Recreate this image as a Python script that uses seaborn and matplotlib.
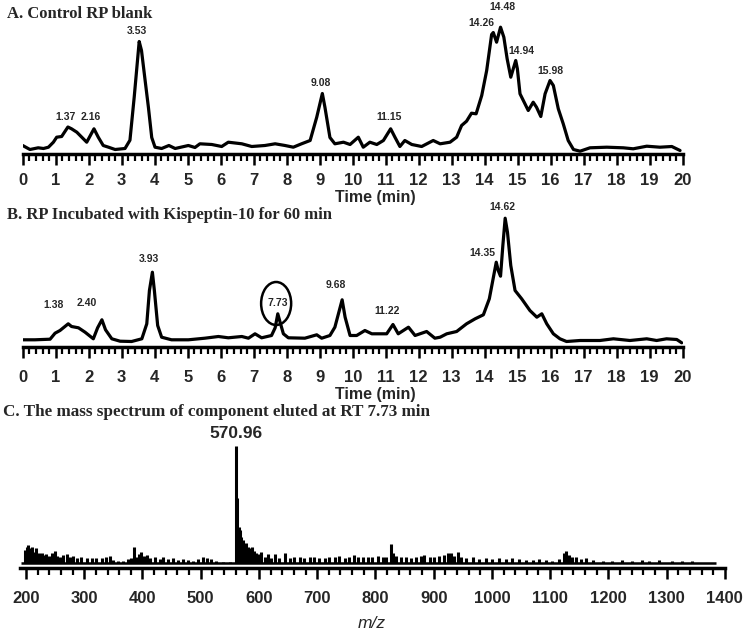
import matplotlib
matplotlib.use("Agg")
import matplotlib.pyplot as plt
from matplotlib.patches import Ellipse
from matplotlib.ticker import MultipleLocator
import seaborn as sns

# -----------------------------
# Data
# -----------------------------
# A. Control RP blank (time in min, detector response in arbitrary units)
time_a = [0.0, 0.22, 0.47, 0.63, 0.78, 0.93, 1.03, 1.18, 1.37, 1.48, 1.64, 1.79, 1.94,
          2.16, 2.29, 2.44, 2.60, 2.80, 3.10, 3.25, 3.38, 3.53, 3.60, 3.71, 3.81, 3.91,
          4.01, 4.21, 4.43, 4.62, 5.02, 5.22, 5.37, 5.73, 6.03, 6.23, 6.64, 6.94, 7.34,
          7.65, 7.95, 8.20, 8.45, 8.71, 8.91, 9.08, 9.16, 9.31, 9.46, 9.72, 9.92, 10.17,
          10.32, 10.52, 10.73, 10.93, 11.15, 11.28, 11.43, 11.58, 11.79, 12.09, 12.44,
          12.65, 12.95, 13.15, 13.30, 13.45, 13.60, 13.74, 13.91, 14.06, 14.21, 14.26,
          14.36, 14.44, 14.48, 14.58, 14.68, 14.79, 14.94, 14.99, 15.07, 15.22, 15.32,
          15.47, 15.57, 15.70, 15.83, 15.98, 16.08, 16.23, 16.38, 16.53, 16.69, 16.89,
          17.19, 17.70, 18.20, 18.50, 18.91, 19.31, 19.67, 19.92]
resp_a = [8, 4, 5.7, 5, 6.3, 11.3, 16.3, 17, 26.5, 24.7, 21.3, 16.3, 11.3,
          24.7, 16.3, 8, 6.3, 4, 5, 13.3, 56.7, 112, 103, 73, 46, 16,
          6.3, 5, 8, 5, 8, 6, 9.7, 9, 7, 11.3, 9.7, 7, 8,
          9.7, 8, 6.3, 9.7, 13, 36.3, 60, 46, 16, 9.7, 11.3, 9, 16.3,
          6.3, 11.3, 9, 13, 24.7, 16.3, 7, 13, 9, 7, 13,
          9.7, 11.3, 16.3, 28, 32.3, 40.3, 39.7, 58, 83, 119, 121,
          111.3, 121.3, 126.3, 116.3, 94.7, 76.3, 93, 84.7, 59.7, 49.7, 43,
          51.3, 46.3, 37, 59.7, 73, 68, 44.7, 29.7, 13, 4, 2.3,
          5.7, 6.3, 5.7, 4.7, 7.3, 6.3, 7, 3]

# B. RP incubated with Kispeptin-10 for 60 min
time_b = [0.0, 0.37, 0.83, 0.98, 1.13, 1.38, 1.48, 1.69, 1.89, 2.14, 2.27, 2.40, 2.51,
          2.70, 2.95, 3.30, 3.61, 3.76, 3.84, 3.93, 3.99, 4.09, 4.21, 4.51, 5.02, 5.52,
          5.93, 6.23, 6.64, 6.84, 7.04, 7.24, 7.54, 7.65, 7.73, 7.80, 7.90, 8.05, 8.55,
          8.91, 9.06, 9.31, 9.46, 9.68, 9.77, 9.92, 10.12, 10.37, 10.58, 10.83, 11.03,
          11.22, 11.38, 11.69, 11.89, 12.24, 12.49, 12.65, 12.85, 13.15, 13.45, 13.71,
          13.96, 14.14, 14.35, 14.41, 14.48, 14.55, 14.62, 14.69, 14.79, 14.92, 15.12,
          15.37, 15.58, 15.73, 15.88, 16.08, 16.28, 16.48, 16.89, 17.49, 17.90, 18.40,
          18.91, 19.21, 19.51, 19.82, 19.97]
resp_b = [6.7, 6.7, 7.3, 13.3, 16, 22.7, 20, 18.7, 14.3, 7.7, 18.7, 26.7, 16.7,
          7.7, 5.3, 5, 7.7, 22.7, 56, 74.3, 56, 21, 9.3, 6.7, 6.7, 8.3,
          10, 8.7, 10, 8.3, 12.7, 8.7, 11, 18.7, 32.7, 24.3, 12.7, 8.7, 8.3,
          11.7, 8.3, 11, 19.3, 46.7, 29.3, 11, 11, 16, 12.7, 12.7, 12.7,
          22, 12.7, 19.3, 11, 15, 8.3, 9.3, 12.7, 15, 22.7, 27.7,
          31.7, 47.7, 84.3, 76, 70.3, 101, 128.3, 114.3, 81, 56, 47.7,
          36, 29.3, 32.7, 22.7, 12.7, 7.7, 5, 6, 6, 7.7, 6,
          7.7, 6, 7.7, 7, 3.7]

peaks_a = ["1.37", "2.16", "3.53", "9.08", "11.15", "14.26", "14.48", "14.94", "15.98"]
label_xy_a = [(1.31, 36), (2.07, 36), (3.46, 122), (9.04, 70), (11.1, 36),
              (13.89, 131), (14.55, 146), (15.1, 103), (15.98, 83)]
peaks_b = ["1.38", "2.40", "3.93", "7.73", "9.68", "11.22", "14.35", "14.62"]
label_xy_b = [(0.95, 41), (1.95, 44), (3.83, 88), (7.72, 44), (9.49, 62),
              (11.04, 36), (13.92, 94), (14.55, 140)]

# C. Mass spectrum of the component eluted at RT 7.73 min
mz = [198, 201, 204, 207, 210, 214, 218, 222, 227, 231, 235, 240, 244, 249, 253, 258,
      264, 270, 275, 281, 287, 295, 304, 313, 321, 330, 338, 344, 350, 358, 367, 375,
      381, 386, 390, 394, 398, 403, 407, 413, 421, 430, 435, 444, 453, 461, 470, 478,
      487, 495, 504, 510, 518, 527, 538, 550, 561, 563, 565, 567, 570, 573, 575, 578,
      581, 585, 588, 591, 595, 599, 604, 610, 615, 621, 627, 635, 644, 653, 661, 670,
      678, 687, 695, 704, 713, 721, 730, 738, 747, 755, 764, 770, 778, 787, 795, 804,
      813, 818, 826, 830, 835, 844, 853, 861, 870, 878, 884, 893, 901, 910, 918, 924,
      930, 935, 941, 947, 955, 967, 978, 990, 1001, 1013, 1024, 1035, 1047, 1058, 1070,
      1081, 1093, 1104, 1115, 1124, 1128, 1133, 1138, 1144, 1153, 1161, 1173, 1190,
      1207, 1224, 1241, 1258, 1270, 1287, 1310, 1327, 1344]
abund = [13, 16.3, 18, 14.7, 16.3, 11.3, 14.7, 9.7, 10.3, 8, 9, 7, 9.7, 12.3, 7, 6.3,
         8, 9, 5.7, 7, 4.7, 5.7, 4.7, 5, 5.3, 4.7, 5.7, 7, 3, 2.3, 2, 3.7,
         4.7, 15.7, 6.3, 9, 11.3, 7, 8, 4.7, 6.3, 3.7, 5.7, 3.7, 4.7, 3, 4, 3,
         2.3, 4, 5.7, 4.7, 3.7, 2, 1.3, 1, 117, 64.7, 36.3, 33, 26.3, 23, 18, 19.7,
         16.3, 14.7, 16.3, 12.3, 10.3, 9, 11.3, 6.3, 9, 5.3, 9, 5, 9.7, 4.7, 5.7, 6.3,
         4.7, 5.7, 6.3, 4.7, 5.3, 5.7, 6.3, 7, 5.3, 6.3, 8, 6.3, 5.7, 6.3, 5.7, 7,
         6.3, 5.7, 19, 9.7, 7, 5.7, 6.3, 4.7, 6.3, 7, 8, 5.7, 6.3, 7, 8, 10.3,
         9.7, 7, 11, 6.3, 4.7, 5.7, 3.7, 4.7, 3.7, 4.7, 3.7, 4.7, 3.7, 3, 3,
         3.7, 3, 2.3, 3.7, 9.7, 12, 8, 6.3, 5.7, 3.7, 4.7, 3, 2.3,
         2.3, 3, 2.3, 3, 2.3, 3, 2.3, 2.3, 2.3]
base_peak = "570.96"

sns.set_style("white")
plt.rcParams['font.family'] = ['Liberation Sans', 'DejaVu Sans']

W, H = 750, 634
fig = plt.figure(figsize=(7.5, 6.34), dpi=100)


def ruler(ax, major, minor, pad):
    for s in ['top', 'right', 'left']:
        ax.spines[s].set_visible(False)
    ax.spines['bottom'].set_linewidth(2.5)
    ax.spines['bottom'].set_color('black')
    ax.set_yticks([])
    ax.xaxis.set_major_locator(MultipleLocator(major))
    ax.xaxis.set_minor_locator(MultipleLocator(minor))
    ax.tick_params(axis='x', which='both', bottom=True, direction='out', color='black')
    ax.tick_params(axis='x', which='major', length=8, width=1.8, pad=pad, labelsize=12)
    ax.tick_params(axis='x', which='minor', length=5, width=1.6)
    for lab in ax.get_xticklabels():
        lab.set_fontweight('bold')
    ax.set_xlabel("")
    ax.set_ylabel("")
    ax.patch.set_alpha(0)


# -----------------------------
# Panel A
# -----------------------------
axA = fig.add_axes([22.7 / W, 1 - 153.5 / H, 660 / W, 140 / H])
sns.lineplot(x=time_a, y=resp_a, ax=axA, color='black', lw=2.3, estimator=None)
axA.set_xlim(0, 20)
axA.set_ylim(0, 140)
ruler(axA, 1, 0.2, 6)
for txt, (x, y) in zip(peaks_a, label_xy_a):
    axA.text(x, y, txt, ha='center', va='center', fontsize=7.5, fontweight='bold')

# -----------------------------
# Panel B
# -----------------------------
axB = fig.add_axes([22.7 / W, 1 - 346.5 / H, 660 / W, 136.5 / H])
sns.lineplot(x=time_b, y=resp_b, ax=axB, color='black', lw=2.3, estimator=None)
axB.set_xlim(0, 20)
axB.set_ylim(0, 136.5)
ruler(axB, 1, 0.2, 9)
for txt, (x, y) in zip(peaks_b, label_xy_b):
    axB.text(x, y, txt, ha='center', va='center', fontsize=7.5, fontweight='bold')
axB.add_patch(Ellipse((7.68, 43), 0.91, 43, fill=False, lw=1.8, color='black'))

# -----------------------------
# Panel C
# -----------------------------
px_per_mz = 0.5833
axC = fig.add_axes([(26 - 10 * px_per_mz) / W, 1 - 567.5 / H, 1210 * px_per_mz / W, 125.5 / H])
axC.vlines(mz, 0, abund, color='black', lw=2.2)
axC.hlines(0, 192, 1385, color='black', lw=1.8)
axC.set_xlim(190, 1402)
axC.set_ylim(-4.5, 121)
ruler(axC, 100, 20, 9)
axC.spines['bottom'].set_bounds(190, 1400)
axC.text(560, 129, base_peak, ha='center', va='center', fontsize=12.5, fontweight='bold')

# -----------------------------
# Titles and axis labels
# -----------------------------
serif = ['Liberation Serif', 'DejaVu Serif']
fig.text(7 / W, 1 - 14 / H, "A. Control RP blank", family=serif, fontweight='bold',
         fontsize=12, va='center', ha='left')
fig.text(7 / W, 1 - 215 / H, "B. RP Incubated with Kispeptin-10 for 60 min", family=serif,
         fontweight='bold', fontsize=12, va='center', ha='left')
fig.text(3 / W, 1 - 412 / H, "C. The mass spectrum of component eluted at RT 7.73 min",
         family=serif, fontweight='bold', fontsize=12.3, va='center', ha='left')
fig.text(375 / W, 1 - 197 / H, "Time (min)", fontsize=11.5, fontweight='bold',
         ha='center', va='center')
fig.text(375 / W, 1 - 394 / H, "Time (min)", fontsize=11.5, fontweight='bold',
         ha='center', va='center')
fig.text(372 / W, 1 - 624 / H, "m/z", fontsize=12.5, style='italic',
         ha='center', va='center')

plt.savefig("out.png", dpi=100)
plt.close()
